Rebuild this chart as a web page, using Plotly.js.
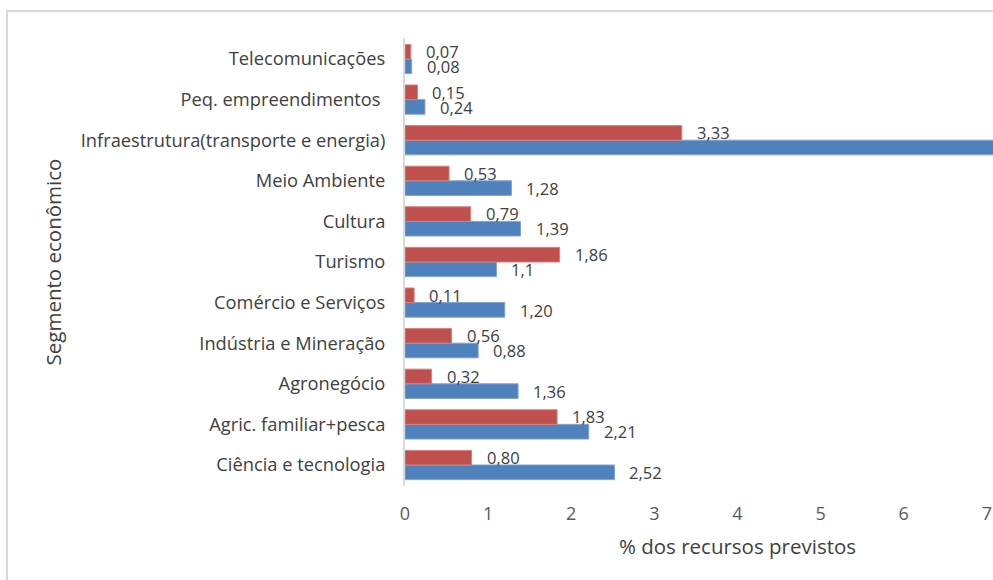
<!DOCTYPE html>
<html>
<head>
<meta charset="utf-8">
<script src="https://cdn.plot.ly/plotly-3.0.1.min.js"></script>
<style>
  html, body { margin: 0; padding: 0; overflow: hidden; background: #fff; }
  #chart { width: 1080px; height: 580px; }
</style>
</head>
<body>
<div id="chart"></div>
<script>
// Categories, bottom to top
const categories = [
  "Ciência e tecnologia",
  "Agric. familiar+pesca",
  "Agronegócio",
  "Indústria e Mineração",
  "Comércio e Serviços",
  "Turismo",
  "Cultura",
  "Meio Ambiente",
  "Infraestrutura(transporte e energia)",
  "Peq. empreendimentos ",
  "Telecomunicações"
];
// Red series (upper bar in each group)
const redValues = [0.80, 1.83, 0.32, 0.56, 0.11, 1.86, 0.79, 0.53, 3.33, 0.15, 0.07];
const redLabels = ["0,80", "1,83", "0,32", "0,56", "0,11", "1,86", "0,79", "0,53", "3,33", "0,15", "0,07"];
// Blue series (lower bar in each group)
const blueValues = [2.52, 2.21, 1.36, 0.88, 1.20, 1.10, 1.39, 1.28, 7.6, 0.24, 0.08];
const blueLabels = ["2,52", "2,21", "1,36", "0,88", "1,20", "1,1", "1,39", "1,28", "7,60", "0,24", "0,08"];
const xTicks = [0, 1, 2, 3, 4, 5, 6, 7];

const FONT = "Open Sans, DejaVu Sans, sans-serif";
const TXT = "#404040";
const xMaxShown = 7;

const traces = [
  {
    type: "bar", orientation: "h", name: "blue",
    y: categories, x: blueValues,
    marker: { color: "#4F81BD", line: { color: "#7FA3D0", width: 1 } },
    hoverinfo: "x+y", cliponaxis: true
  },
  {
    type: "bar", orientation: "h", name: "red",
    y: categories, x: redValues,
    marker: { color: "#C0504D", line: { color: "#D9807D", width: 1 } },
    hoverinfo: "x+y", cliponaxis: true
  }
];

const annotations = [];
categories.forEach((c, i) => {
  annotations.push({
    x: redValues[i], y: c, xref: "x", yref: "y",
    text: redLabels[i], showarrow: false,
    xanchor: "left", yanchor: "middle", xshift: 13, yshift: 7.5,
    font: { family: FONT, size: 16.5, color: TXT }
  });
  if (blueValues[i] <= xMaxShown) {
    annotations.push({
      x: blueValues[i], y: c, xref: "x", yref: "y",
      text: blueLabels[i], showarrow: false,
      xanchor: "left", yanchor: "middle", xshift: 13, yshift: -7.5,
      font: { family: FONT, size: 16.5, color: TXT }
    });
  }
});

const layout = {
  width: 1080, height: 580,
  margin: { l: 405, r: 10, t: 38, b: 94 },
  paper_bgcolor: "#ffffff", plot_bgcolor: "#ffffff",
  showlegend: false,
  barmode: "group",
  bargap: 0.28, bargroupgap: 0,
  font: { family: FONT, color: TXT, size: 16 },
  xaxis: {
    range: [0, 8],
    tickvals: xTicks,
    ticktext: xTicks.map(String),
    showgrid: false, zeroline: false, showline: false,
    ticks: "", ticklen: 0,
    ticklabelstandoff: 15,
    tickfont: { family: FONT, size: 18, color: "#595959" },
    title: { text: "% dos recursos previstos", font: { family: FONT, size: 20.5, color: TXT }, standoff: 15 },
    automargin: false,
    fixedrange: true
  },
  yaxis: {
    type: "category",
    showgrid: false, zeroline: false,
    showline: true, linecolor: "#D9D9D9", linewidth: 2,
    ticks: "", ticklen: 0,
    ticklabelstandoff: 14,
    tickfont: { family: FONT, size: 18.3, color: TXT },
    title: { text: "Segmento econômico", font: { family: FONT, size: 20.5, color: TXT }, standoff: 14 },
    automargin: false,
    fixedrange: true
  },
  annotations: annotations,
  shapes: [
    {
      type: "rect", xref: "paper", yref: "paper",
      x0: (7 - 405) / 665, x1: 2, y0: -1, y1: (486 - 11) / 448,
      line: { color: "#D9D9D9", width: 2 }, fillcolor: "rgba(0,0,0,0)", layer: "below"
    }
  ]
};

Plotly.newPlot("chart", traces, layout, { displayModeBar: false, staticPlot: true });
</script>
</body>
</html>
